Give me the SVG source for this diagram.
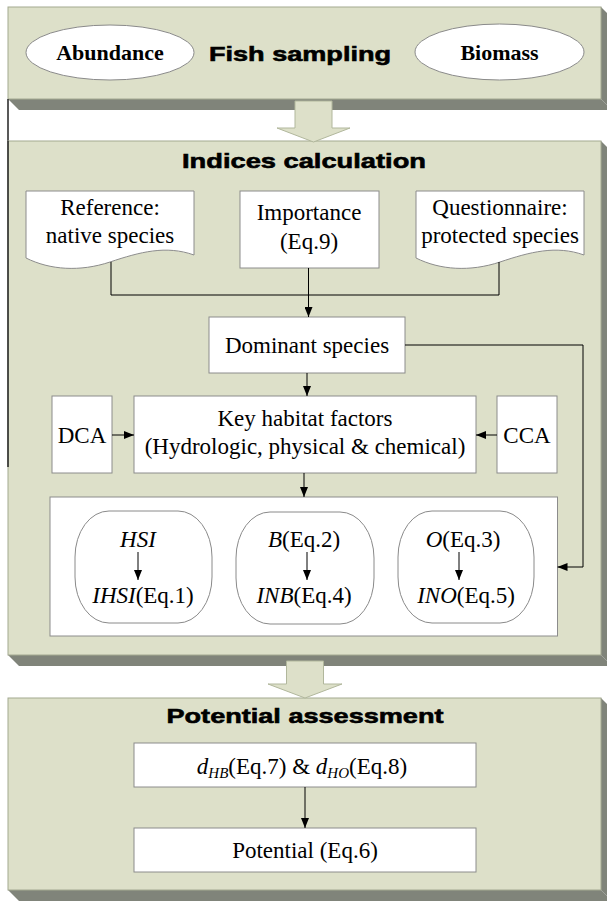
<svg xmlns="http://www.w3.org/2000/svg" width="607" height="901" viewBox="0 0 607 901">
<defs>
<style>
.face{fill:#dde0c9;stroke:#a3a990;stroke-width:1}
.shadow{fill:#80847a}
.box{fill:#ffffff;stroke:#8c8c8c;stroke-width:1}
.oval{fill:#ffffff;stroke:#8a8a8a;stroke-width:1}
.t{font-family:"Liberation Serif","Times New Roman",serif;font-size:23px;fill:#000;text-anchor:middle}
.tb{font-family:"Liberation Serif","Times New Roman",serif;font-size:22px;font-weight:bold;fill:#000;text-anchor:middle}
.title{font-family:"Liberation Sans",Arial,sans-serif;font-size:21px;font-weight:bold;fill:#000;stroke:#000;stroke-width:0.6;text-anchor:middle}
.i{font-style:italic}
.line{fill:none;stroke:#000;stroke-width:1}
.block{fill:#dde0c9;stroke:#b1b79c;stroke-width:1}
</style>
<marker id="ah" markerUnits="userSpaceOnUse" markerWidth="10" markerHeight="8" refX="10" refY="4" orient="auto">
<path d="M0,0 L10,4 L0,8 z" fill="#000"/>
</marker>
</defs>
<rect width="607" height="901" fill="#ffffff"/>

<g id="panel-fish-sampling">
<polygon class="shadow" points="8,99 601,99 612,110 19,110"/>
<polygon class="shadow" points="601,7 612,18 612,110 601,99"/>
<rect class="face" x="8" y="7" width="593" height="92"/>
<line x1="8" y1="99" x2="8" y2="141" stroke="#222" stroke-width="1.5"/>
<text class="title" x="300" y="61" textLength="182" lengthAdjust="spacingAndGlyphs">Fish sampling</text>
</g>
<g id="node-abundance">
<ellipse class="oval" cx="110" cy="52.5" rx="84" ry="27.5"/>
<text class="tb" x="110" y="60">Abundance</text>
</g>
<g id="node-biomass">
<ellipse class="oval" cx="499.5" cy="52" rx="84.5" ry="28"/>
<text class="tb" x="499.5" y="60">Biomass</text>
</g>

<g id="panel-indices">
<polygon class="shadow" points="8,655 601,655 612,666 19,666"/>
<polygon class="shadow" points="601,141 612,152 612,666 601,655"/>
<rect class="face" x="8" y="141" width="593" height="514"/>
<line x1="8" y1="141" x2="8" y2="467" stroke="#222" stroke-width="1.5"/>
<text class="title" x="304" y="168" textLength="244" lengthAdjust="spacingAndGlyphs">Indices calculation</text>
</g>
<g id="node-reference">
<path class="box" d="M26,191 H194 V255 C166,245 140,252 110,262 C80,272 50,270 26,258 Z"/>
<text class="t" x="110" y="215">Reference:</text>
<text class="t" x="110" y="243">native species</text>
</g>
<g id="node-importance">
<rect class="box" x="240" y="191" width="139" height="77"/>
<text class="t" x="309" y="220">Importance</text>
<text class="t" x="309" y="249">(Eq.9)</text>
</g>
<g id="node-questionnaire">
<path class="box" d="M416,191 H584 V255 C556,245 530,252 500,262 C470,272 440,270 416,258 Z"/>
<text class="t" x="500" y="215">Questionnaire:</text>
<text class="t" x="500" y="243">protected species</text>
</g>
<g id="node-dominant">
<rect class="box" x="209" y="317" width="196" height="56"/>
<text class="t" x="307" y="353">Dominant species</text>
</g>
<g id="node-dca">
<rect class="box" x="52" y="396" width="60" height="77"/>
<text class="t" x="82" y="443">DCA</text>
</g>
<g id="node-key">
<rect class="box" x="134" y="396" width="342" height="77"/>
<text class="t" x="305" y="426">Key habitat factors</text>
<text class="t" x="305" y="454">(Hydrologic, physical &amp; chemical)</text>
</g>
<g id="node-cca">
<rect class="box" x="497" y="396" width="60" height="77"/>
<text class="t" x="527" y="443">CCA</text>
</g>
<g id="node-indices-box">
<rect class="box" x="50" y="497" width="507.5" height="139"/>
</g>
<g id="node-hsi">
<rect class="oval" x="75" y="511" width="137" height="112" rx="34" ry="46"/>
<text class="t" x="138" y="547"><tspan class="i">HSI</tspan></text>
<text class="t" x="143" y="603"><tspan class="i">IHSI</tspan>(Eq.1)</text>
</g>
<g id="node-b">
<rect class="oval" x="236" y="512" width="138" height="112" rx="34" ry="46"/>
<text class="t" x="304" y="547"><tspan class="i">B</tspan>(Eq.2)</text>
<text class="t" x="304" y="603"><tspan class="i">INB</tspan>(Eq.4)</text>
</g>
<g id="node-o">
<rect class="oval" x="398" y="511" width="136" height="112" rx="34" ry="46"/>
<text class="t" x="463" y="547"><tspan class="i">O</tspan>(Eq.3)</text>
<text class="t" x="466" y="603"><tspan class="i">INO</tspan>(Eq.5)</text>
</g>

<g id="panel-potential">
<polygon class="shadow" points="8,890 601,890 612,901 19,901"/>
<polygon class="shadow" points="601,698 612,709 612,901 601,890"/>
<rect class="face" x="8" y="698" width="593" height="192"/>
<text class="title" x="305" y="723" textLength="277" lengthAdjust="spacingAndGlyphs">Potential assessment</text>
</g>
<g id="node-distance">
<rect class="box" x="134" y="743" width="342" height="44"/>
<text class="t" x="302" y="774"><tspan class="i">d</tspan><tspan class="i" font-size="15" dy="4">HB</tspan><tspan dy="-4">(Eq.7) &amp; </tspan><tspan class="i">d</tspan><tspan class="i" font-size="15" dy="4">HO</tspan><tspan dy="-4">(Eq.8)</tspan></text>
</g>
<g id="node-potential">
<rect class="box" x="134" y="828" width="342" height="44"/>
<text class="t" x="305" y="858">Potential (Eq.6)</text>
</g>

<g id="connectors">
<polygon class="block" points="295,101 332,101 332,128 350,128 313.5,142 277,128 295,128"/>
<polygon class="block" points="286.5,661 323.5,661 323.5,684 342,684 305,698 268,684 286.5,684"/>
<polyline class="line" points="111,262 111,295 499,295 499,262"/>
<line class="line" x1="308.5" y1="268" x2="308.5" y2="317" marker-end="url(#ah)"/>
<line class="line" x1="307" y1="373" x2="307" y2="396" marker-end="url(#ah)"/>
<line class="line" x1="112" y1="435" x2="134" y2="435" marker-end="url(#ah)"/>
<line class="line" x1="497" y1="435" x2="476" y2="435" marker-end="url(#ah)"/>
<line class="line" x1="304" y1="473" x2="304" y2="497" marker-end="url(#ah)"/>
<polyline class="line" points="405,345 583,345 583,567 557.5,567" marker-end="url(#ah)"/>
<line class="line" x1="138" y1="552" x2="138" y2="580" marker-end="url(#ah)"/>
<line class="line" x1="307" y1="552" x2="307" y2="580" marker-end="url(#ah)"/>
<line class="line" x1="459" y1="552" x2="459" y2="580" marker-end="url(#ah)"/>
<line class="line" x1="305" y1="787" x2="305" y2="828" marker-end="url(#ah)"/>
</g>
</svg>
